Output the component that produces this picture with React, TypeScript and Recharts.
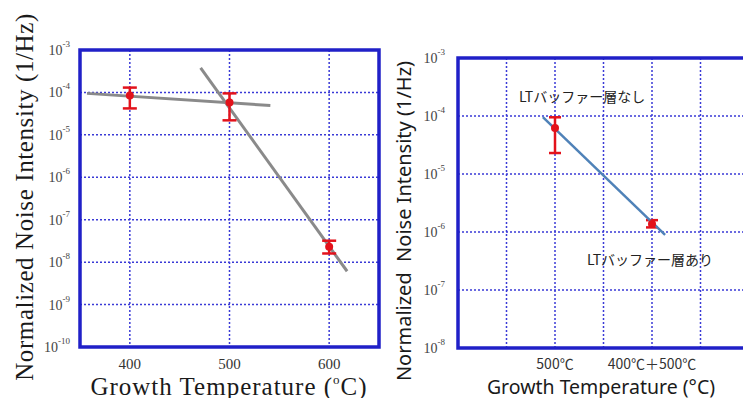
import React from "react";
import {
  ComposedChart,
  Line,
  Scatter,
  ErrorBar,
  XAxis,
  YAxis,
  CartesianGrid,
  ReferenceArea,
  ReferenceDot,
} from "recharts";

// ---------- Left chart data ----------
const leftTemps = [400, 500, 600];
const leftNoise = [8.5e-5, 5.8e-5, 2.3e-8];
const leftErrLow = [4.2e-5, 2.2e-5, 1.6e-8];
const leftErrHigh = [1.3e-4, 9.5e-5, 3.2e-8];
const leftFit1X = [357, 541];
const leftFit1Y = [9.5e-5, 4.9e-5];
const leftFit2X = [471, 618];
const leftFit2Y = [3.8e-4, 6.1e-9];
const leftXTicks = [400, 500, 600];
const leftYExps = [-10, -9, -8, -7, -6, -5, -4, -3];

// ---------- Right chart data ----------
const rightCategories = ["500℃", "400℃＋500℃"];
const rightCatPos = [2, 4];
const rightXTicks = [0, 1, 2, 3, 4, 5, 6];
const rightNoise = [6.2e-5, 1.38e-6];
const rightErrLow = [2.3e-5, 1.2e-6];
const rightErrHigh = [9.5e-5, 1.6e-6];
const rightFitX = [1.75, 4.27];
const rightFitY = [9.6e-5, 8.9e-7];
const rightYExps = [-8, -7, -6, -5, -4, -3];
const rightNotes = [
  { text: "LTバッファー層なし", x: 2.56, y: 2.1e-4 },
  { text: "LTバッファー層あり", x: 3.96, y: 3.3e-7 },
];

const BLUE = "#2020c8";
const GRID = "#3a3ad6";
const RED = "#e3121b";

const leftPts = leftTemps.map((t, i) => ({
  x: t,
  y: leftNoise[i],
  err: [leftNoise[i] - leftErrLow[i], leftErrHigh[i] - leftNoise[i]],
}));
const leftFit1 = leftFit1X.map((x, i) => ({ x, y: leftFit1Y[i] }));
const leftFit2 = leftFit2X.map((x, i) => ({ x, y: leftFit2Y[i] }));

const rightPts = rightCatPos.map((p, i) => ({
  x: p,
  y: rightNoise[i],
  err: [rightNoise[i] - rightErrLow[i], rightErrHigh[i] - rightNoise[i]],
}));
const rightFit = rightFitX.map((x, i) => ({ x, y: rightFitY[i] }));

const makeYTick = (offset: number) => (props: any) => {
  const { x, y, payload } = props;
  const e = Math.round(Math.log10(payload.value));
  return (
    <text
      x={x - offset}
      y={y}
      textAnchor="end"
      dominantBaseline="central"
      fontFamily="Liberation Serif"
      fill="#444"
      fontSize={14}
    >
      <tspan>10</tspan>
      <tspan dy={-6} fontSize={9}>
        {String(e)}
      </tspan>
    </text>
  );
};

const LeftXTick = (props: any) => {
  const { x, y, payload } = props;
  return (
    <text
      x={x}
      y={y + 15}
      textAnchor="middle"
      dominantBaseline="central"
      fontFamily="Liberation Serif"
      fontSize={15}
      fill="#333"
    >
      {payload.value}
    </text>
  );
};

const RightXTick = (props: any) => {
  const { x, y, payload } = props;
  const idx = rightCatPos.indexOf(payload.value);
  if (idx < 0) return <g />;
  return (
    <text
      x={x}
      y={y + 13}
      textAnchor="middle"
      dominantBaseline="central"
      fontFamily="Noto Sans CJK JP"
      fontSize={14}
      fill="#333"
    >
      {rightCategories[idx]}
    </text>
  );
};

const Dot = (props: any) => {
  const { cx, cy } = props;
  return <circle cx={cx} cy={cy} r={4} fill={RED} />;
};

export default function App() {
  return (
    <div
      style={{
        position: "absolute",
        left: 0,
        top: 0,
        width: 743,
        height: 398,
        overflow: "hidden",
        background: "#fff",
      }}
    >
      <div style={{ position: "absolute", left: 0, top: 0 }}>
        <ComposedChart
          width={381}
          height={398}
          margin={{ top: 50, right: 2, bottom: 11, left: 0 }}
        >
          <CartesianGrid
            stroke={GRID}
            strokeDasharray="2 2"
            strokeWidth={1.5}
          />
          <XAxis
            dataKey="x"
            type="number"
            domain={[350, 650]}
            ticks={leftXTicks}
            allowDataOverflow
            height={40}
            tickSize={0}
            axisLine={false}
            tick={<LeftXTick />}
          />
          <YAxis
            type="number"
            scale="log"
            domain={[1e-10, 1e-3]}
            ticks={leftYExps.map((e) => Math.pow(10, e))}
            allowDataOverflow
            width={80}
            tickSize={0}
            axisLine={false}
            tick={makeYTick(8)}
          />
          <ReferenceArea
            x1={350}
            x2={650}
            y1={1e-10}
            y2={1e-3}
            fill="none"
            stroke={BLUE}
            strokeWidth={3.5}
            fillOpacity={0}
          />
          <Line
            data={leftFit1}
            dataKey="y"
            stroke="#8a8a8a"
            strokeWidth={3}
            dot={false}
            isAnimationActive={false}
          />
          <Line
            data={leftFit2}
            dataKey="y"
            stroke="#8a8a8a"
            strokeWidth={3}
            dot={false}
            isAnimationActive={false}
          />
          <Scatter
            data={leftPts}
            dataKey="y"
            shape={<Dot />}
            isAnimationActive={false}
          >
            <ErrorBar
              dataKey="err"
              direction="y"
              width={7}
              stroke={RED}
              strokeWidth={2.5}
            />
          </Scatter>
        </ComposedChart>
      </div>

      <div style={{ position: "absolute", left: 380, top: 0 }}>
        <ComposedChart
          width={374}
          height={398}
          margin={{ top: 58, right: 5, bottom: 10, left: 0 }}
        >
          <CartesianGrid
            stroke={GRID}
            strokeDasharray="2 2"
            strokeWidth={1.5}
          />
          <XAxis
            dataKey="x"
            type="number"
            domain={[0, 6]}
            ticks={rightXTicks}
            allowDataOverflow
            height={40}
            tickSize={0}
            axisLine={false}
            tick={<RightXTick />}
            interval={0}
          />
          <YAxis
            type="number"
            scale="log"
            domain={[1e-8, 1e-3]}
            ticks={rightYExps.map((e) => Math.pow(10, e))}
            allowDataOverflow
            width={78}
            tickSize={0}
            axisLine={false}
            tick={makeYTick(11)}
          />
          <ReferenceArea
            x1={0}
            x2={6}
            y1={1e-8}
            y2={1e-3}
            fill="none"
            stroke={BLUE}
            strokeWidth={3.5}
            fillOpacity={0}
          />
          <Scatter
            data={rightPts}
            dataKey="y"
            shape={<Dot />}
            isAnimationActive={false}
          >
            <ErrorBar
              dataKey="err"
              direction="y"
              width={6}
              stroke={RED}
              strokeWidth={2.5}
            />
          </Scatter>
          <Line
            data={rightFit}
            dataKey="y"
            stroke="#4f82b8"
            strokeWidth={2.5}
            dot={false}
            isAnimationActive={false}
          />
          {rightNotes.map((n) => (
            <ReferenceDot
              key={n.text}
              x={n.x}
              y={n.y}
              r={0}
              fill="none"
              stroke="none"
              label={{
                value: n.text,
                position: "center",
                fontSize: 14,
                fill: "#222",
                fontFamily: "Noto Sans CJK JP",
              }}
            />
          ))}
        </ComposedChart>
      </div>

      <svg
        width={743}
        height={398}
        style={{ position: "absolute", left: 0, top: 0, pointerEvents: "none" }}
      >
        <text
          transform="translate(24,197) rotate(-90)"
          textAnchor="middle"
          dominantBaseline="central"
          fontFamily="Liberation Serif"
          fontSize={25}
          letterSpacing={0.6}
          fill="#1a1a1a"
        >
          Normalized Noise Intensity (1/Hz)
        </text>
        <text
          x={229}
          y={386}
          textAnchor="middle"
          dominantBaseline="central"
          fontFamily="Liberation Serif"
          fontSize={25}
          letterSpacing={1}
          fill="#1a1a1a"
        >
          Growth Temperature (
          <tspan fontSize={13} dy={-7}>
            o
          </tspan>
          <tspan dy={7}>C)</tspan>
        </text>
        <text
          transform="translate(403,221) rotate(-90)"
          textAnchor="middle"
          dominantBaseline="central"
          fontFamily="Noto Sans"
          fontSize={20}
          fill="#1a1a1a"
          style={{ whiteSpace: "pre" }}
        >
          {"Normalized  Noise Intensity (1/Hz)"}
        </text>
        <text
          x={601}
          y={386}
          textAnchor="middle"
          dominantBaseline="central"
          fontFamily="Noto Sans"
          fontSize={19.5}
          fill="#1a1a1a"
        >
          Growth Temperature (°C)
        </text>
      </svg>
    </div>
  );
}
